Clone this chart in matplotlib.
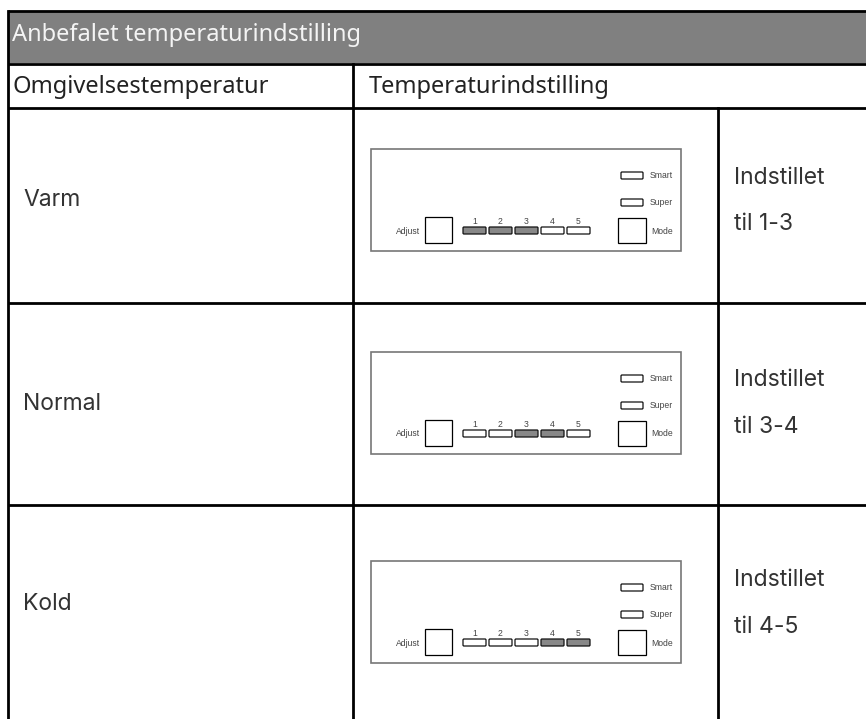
import matplotlib.pyplot as plt
from matplotlib.patches import Rectangle, FancyBboxPatch

# table contents
title = "Anbefalet temperaturindstilling"
col_headers = ["Omgivelsestemperatur", "Temperaturindstilling"]
ambient = ["Varm", "Normal", "Kold"]
setting_text = ["til 1-3", "til 3-4", "til 4-5"]
active_levels = [[1, 2, 3], [3, 4], [4, 5]]
levels = [1, 2, 3, 4, 5]

fig = plt.figure(figsize=(8.66, 7.19), dpi=100)
ax = fig.add_axes([0, 0, 1, 1])
ax.set_xlim(0, 866)
ax.set_ylim(719, 0)
ax.axis("off")

body_font = "Inter"
head_font = "Noto Sans"
small_font = "Liberation Sans"
dark = "#333333"

# header band
ax.add_patch(Rectangle((8, 11), 866, 52, facecolor="#808080", edgecolor="none"))
ax.text(12, 35, title, fontsize=17, family=head_font, color="#f4f4f4", va="center")

# grid lines
lw = 2.0
for y in [11, 63.5, 108, 303, 505]:
    ax.plot([8, 866], [y, y], color="black", lw=lw, solid_capstyle="butt")
ax.plot([8, 8], [11, 719], color="black", lw=lw)
ax.plot([353, 353], [63.5, 719], color="black", lw=lw)
ax.plot([718, 718], [108, 719], color="black", lw=lw)

ax.text(12, 87, col_headers[0], fontsize=17, family=head_font, color="#222222", va="center")
ax.text(369, 87, col_headers[1], fontsize=17, family=head_font, color="#222222", va="center")


def draw_panel(top, active):
    ax.add_patch(Rectangle((371, top), 310, 102, facecolor="white", edgecolor="#777777", lw=1.2))
    # adjust key
    ax.add_patch(Rectangle((425, top + 68), 27, 26, facecolor="white", edgecolor="black", lw=0.9))
    ax.text(420, top + 82, "Adjust", fontsize=6.2, family=small_font, color="#444444", ha="right", va="center")
    # level lamps
    for i, lv in enumerate(levels):
        x = 463 + i * 26
        fc = "#888888" if lv in active else "white"
        ax.add_patch(FancyBboxPatch((x, top + 78), 23, 7, boxstyle="round,pad=0,rounding_size=1",
                                    facecolor=fc, edgecolor="#111111", lw=0.9))
        ax.text(x + 11.5, top + 72.5, str(lv), fontsize=6.2, family=small_font, color="#444444",
                ha="center", va="center")
    # smart / super lamps
    for dy, lab in [(23, "Smart"), (50, "Super")]:
        ax.add_patch(FancyBboxPatch((621, top + dy), 22, 7, boxstyle="round,pad=0,rounding_size=1",
                                    facecolor="white", edgecolor="#111111", lw=0.9))
        ax.text(650, top + dy + 3.5, lab, fontsize=6.2, family=small_font, color="#444444", va="center")
    # mode key
    ax.add_patch(Rectangle((618, top + 69), 28, 25, facecolor="white", edgecolor="black", lw=0.9))
    ax.text(651, top + 82, "Mode", fontsize=6.2, family=small_font, color="#444444", va="center")


panel_tops = [149, 352, 561]
label_y = [200, 404, 604]
set_y = [(178, 224), (380, 427), (580, 627)]

for i, name in enumerate(ambient):
    ax.text(23, label_y[i], name, fontsize=16.5, family=body_font, color=dark, va="center")
    draw_panel(panel_tops[i], active_levels[i])
    ax.text(734, set_y[i][0], "Indstillet", fontsize=16.5, family=body_font, color=dark, va="center")
    ax.text(734, set_y[i][1], setting_text[i], fontsize=16.5, family=body_font, color=dark, va="center")

plt.savefig("out.png", dpi=100)
